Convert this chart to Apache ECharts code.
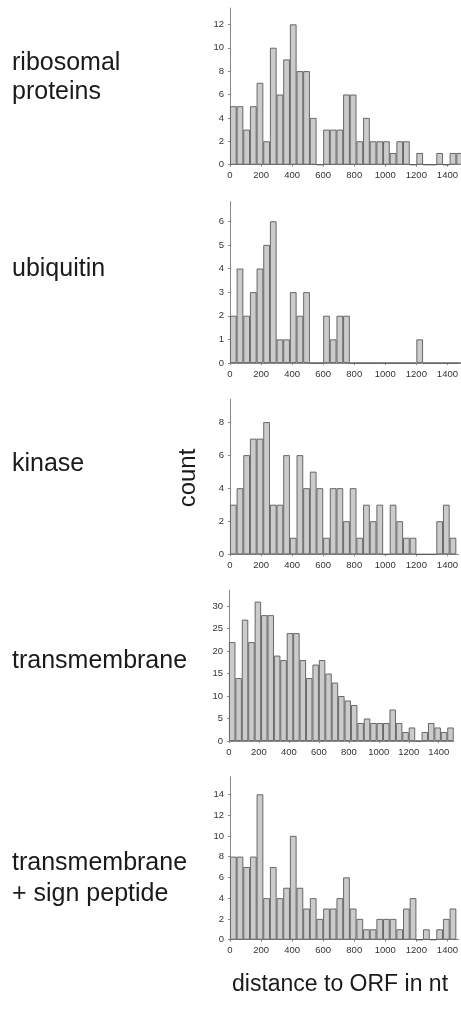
<!DOCTYPE html>
<html>
<head>
<meta charset="utf-8">
<script src="https://cdn.jsdelivr.net/npm/echarts@6/dist/echarts.min.js"></script>
<style>
html,body{margin:0;padding:0;background:#fff;}
#chart{width:461px;height:1009px;}
</style>
</head>
<body>
<div id="chart"></div>
<script>
// ---- data ----
const panelTitles = [['ribosomal', 'proteins'], ['ubiquitin'], ['kinase'], ['transmembrane'], ['transmembrane', '+ sign peptide']];
const binCount = 35;
const binRange = 1500;
const ribosomal = [5,5,3,5,7,2,10,6,9,12,8,8,4,0,3,3,3,6,6,2,4,2,2,2,1,2,2,0,1,0,0,1,0,1,1];
const ubiquitin = [2,4,2,3,4,5,6,1,1,3,2,3,0,0,2,1,2,2,0,0,0,0,0,0,0,0,0,0,1,0,0,0,0,0,0];
const kinase = [3,4,6,7,7,8,3,3,6,1,6,4,5,4,1,4,4,2,4,1,3,2,3,0,3,2,1,1,0,0,0,2,3,1];
const transmembrane = [22,14,27,22,31,28,28,19,18,24,24,18,14,17,18,15,13,10,9,8,4,5,4,4,4,7,4,2,3,0,2,4,3,2,3];
const tmSignal = [8,8,7,8,14,4,7,4,5,10,5,3,4,2,3,3,4,6,3,2,1,1,2,2,2,1,3,4,0,1,0,1,2,3];
const xTicks = [0,200,400,600,800,1000,1200,1400];
const yTicks = [
  [0,2,4,6,8,10,12],
  [0,1,2,3,4,5,6],
  [0,2,4,6,8],
  [0,5,10,15,20,25,30],
  [0,2,4,6,8,10,12,14]
];
const yLabel = 'count';
const xLabel = 'distance to ORF in nt';
const seriesData = [ribosomal, ubiquitin, kinase, transmembrane, tmSignal];

// ---- layout (pixels) ----
const layout = [
  {left:230, top:8,     height:156.7, width:231,   xMax:1471, yMax:13.4, titleY:[62,91]},
  {left:230, top:201.7, height:161.3, width:231,   xMax:1471, yMax:6.83, titleY:[268]},
  {left:230, top:399.3, height:155,   width:231,   xMax:1471, yMax:9.38, titleY:[463]},
  {left:229, top:590,   height:151,   width:224.7, xMax:1500, yMax:33.6, titleY:[660]},
  {left:230, top:776.7, height:163,   width:231,   xMax:1471, yMax:15.7, titleY:[862,893]}
];

const FONT = 'Liberation Sans, Arial, sans-serif';
const axisColor = '#8a8a8a';
const labelColor = '#333';

const binW = binRange / binCount;
const grids = [], xAxes = [], yAxes = [], series = [], graphics = [];
const plain = v => String(v);

seriesData.forEach((vals, i) => {
  const L = layout[i];
  grids.push({left: L.left, top: L.top, width: L.width, height: L.height, containLabel: false});
  xAxes.push({
    type: 'value', gridIndex: i, min: 0, max: L.xMax,
    axisLine: {show: true, onZero: false, lineStyle: {color: axisColor, width: 1}},
    axisTick: {show: true, length: 2, lineStyle: {color: axisColor}, customValues: xTicks},
    axisLabel: {show: true, customValues: xTicks, formatter: plain, fontFamily: FONT, fontSize: 9.5, color: labelColor, margin: 6},
    splitLine: {show: false}
  });
  yAxes.push({
    type: 'value', gridIndex: i, min: 0, max: L.yMax,
    axisLine: {show: true, lineStyle: {color: axisColor, width: 1}},
    axisTick: {show: true, length: 2, lineStyle: {color: axisColor}, customValues: yTicks[i]},
    axisLabel: {show: true, customValues: yTicks[i], formatter: plain, fontFamily: FONT, fontSize: 9.5, color: labelColor, margin: 6},
    splitLine: {show: false}
  });
  series.push({
    type: 'bar', xAxisIndex: i, yAxisIndex: i,
    data: vals.map((v, k) => [(k + 0.5) * binW, v]),
    barWidth: '100%', barCategoryGap: '0%', clip: true,
    itemStyle: {color: '#cbcbcb', borderColor: '#5a5a5a', borderWidth: 0.9},
    silent: true, animation: false
  });
  panelTitles[i].forEach((t, j) => {
    graphics.push({type: 'text', x: 12, y: L.titleY[j] + 1,
      style: {text: t, font: '25px ' + FONT, fill: '#1a1a1a', verticalAlign: 'middle'}});
  });
});

graphics.push({type: 'text', x: 188, y: 478, rotation: Math.PI / 2,
  style: {text: yLabel, font: '24px ' + FONT, fill: '#1a1a1a', align: 'center', verticalAlign: 'middle'}});
graphics.push({type: 'text', x: 340, y: 985,
  style: {text: xLabel, font: '23px ' + FONT, fill: '#1a1a1a', align: 'center', verticalAlign: 'middle'}});

const chart = echarts.init(document.getElementById('chart'), null, {renderer: 'canvas'});
chart.setOption({
  animation: false,
  backgroundColor: '#fff',
  grid: grids, xAxis: xAxes, yAxis: yAxes, series: series, graphic: graphics
});
</script>
</body>
</html>
